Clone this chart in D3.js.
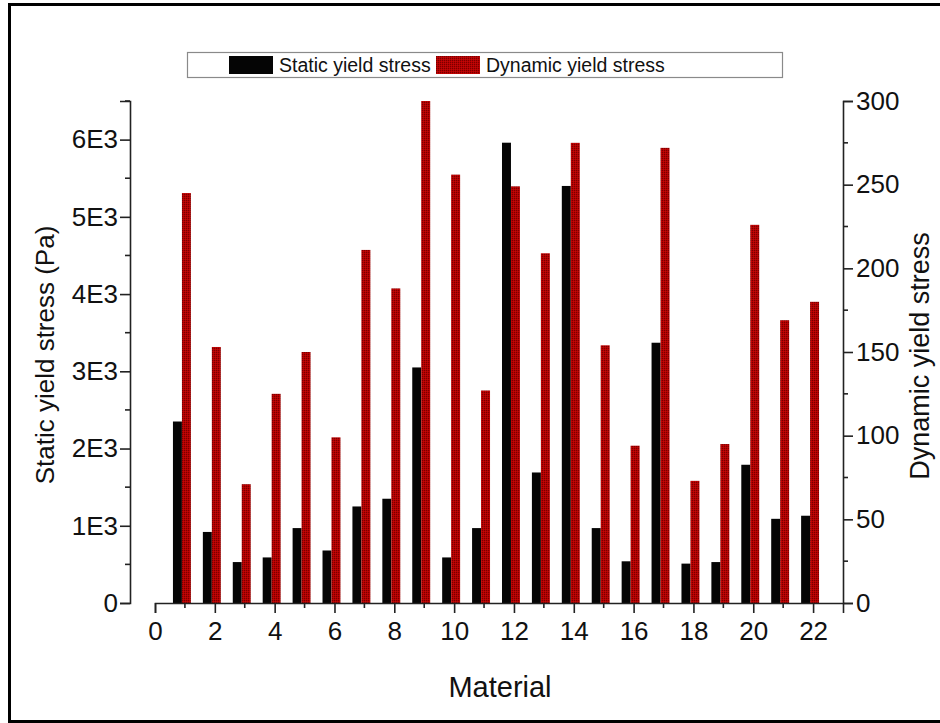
<!DOCTYPE html>
<html lang="en">
<head>
  <meta charset="UTF-8" />
  <title>Static and dynamic yield stress</title>
  <script src="https://d3js.org/d3.v7.min.js"></script>
  <style>
    body { margin: 0; background: #fff; }
    svg text { font-family: "Liberation Sans", Arial, sans-serif; fill: #111; }
  </style>
</head>
<body>
  <div id="chart"></div>

  <script>
    // values
    const materials = [1, 2, 3, 4, 5, 6, 7, 8, 9, 10, 11, 12, 13, 14, 15, 16, 17, 18, 19, 20, 21, 22];
    const staticStress = [2350, 920, 530, 590, 970, 680, 1250, 1350, 3050, 590, 970,
                          5960, 1690, 5400, 970, 540, 3370, 510, 530, 1790, 1090, 1130];
    const dynamicStress = [245, 153, 71, 125, 150, 99, 211, 188, 300, 256, 127,
                           249, 209, 275, 154, 94, 272, 73, 95, 226, 169, 180];
    const leftTicks = [0, 1000, 2000, 3000, 4000, 5000, 6000];
    const rightTicks = [0, 50, 100, 150, 200, 250, 300];
    const xTicks = [0, 2, 4, 6, 8, 10, 12, 14, 16, 18, 20, 22];
    const seriesNames = ["Static yield stress", "Dynamic yield stress"];

    const W = 940, H = 723;
    const svg = d3.select("#chart").append("svg")
      .attr("width", W)
      .attr("height", H);

    // red hatch pattern like the Origin fill
    const defs = svg.append("defs");
    const pat = defs.append("pattern")
      .attr("id", "redfill")
      .attr("patternUnits", "userSpaceOnUse")
      .attr("width", 2).attr("height", 2);
    pat.append("rect").attr("width", 2).attr("height", 2).attr("fill", "#b40000");
    pat.append("rect").attr("width", 1).attr("height", 1).attr("fill", "#780000");
    pat.append("rect").attr("x", 1).attr("y", 1).attr("width", 1).attr("height", 1).attr("fill", "#c00808");

    // outer frame
    svg.append("rect")
      .attr("x", 9.5).attr("y", 4.5)
      .attr("width", 940).attr("height", 717)
      .attr("fill", "none")
      .attr("stroke", "#000")
      .attr("stroke-width", 3);

    const x = d3.scaleLinear().domain([0, 23]).range([155, 843]);
    const yL = d3.scaleLinear().domain([0, 6500]).range([603, 101]);
    const yR = d3.scaleLinear().domain([0, 300]).range([603, 101]);

    const data = materials.map((m, i) => ({m, s: staticStress[i], d: dynamicStress[i]}));

    // bars
    svg.append("g").selectAll("rect")
      .data(data)
      .enter().append("rect")
      .attr("x", d => x(d.m - 0.4))
      .attr("width", x(0.3) - x(0))
      .attr("y", d => yL(d.s))
      .attr("height", d => yL(0) - yL(d.s))
      .attr("fill", "#050505");

    svg.append("g").selectAll("rect")
      .data(data)
      .enter().append("rect")
      .attr("x", d => x(d.m - 0.1))
      .attr("width", x(0.3) - x(0))
      .attr("y", d => yR(d.d))
      .attr("height", d => yR(0) - yR(d.d))
      .attr("fill", "url(#redfill)");

    const axisColor = "#222";

    // left axis, set off from the x axis like Origin does
    const leftAxis = svg.append("g")
      .attr("transform", "translate(130,0)")
      .call(d3.axisLeft(yL).tickValues(leftTicks).tickSize(10).tickPadding(2)
        .tickFormat(d => d === 0 ? "0" : (d / 1000) + "E3"));
    leftAxis.append("g").selectAll("line")
      .data(d3.range(500, 6501, 1000))
      .enter().append("line")
      .attr("x1", -5).attr("x2", 0)
      .attr("y1", d => yL(d)).attr("y2", d => yL(d));

    // right axis
    const rightAxis = svg.append("g")
      .attr("transform", "translate(843,0)")
      .call(d3.axisRight(yR).tickValues(rightTicks).tickSize(10).tickPadding(3));
    rightAxis.append("g").selectAll("line")
      .data(d3.range(25, 300, 50))
      .enter().append("line")
      .attr("x1", 0).attr("x2", 5)
      .attr("y1", d => yR(d)).attr("y2", d => yR(d));

    // bottom axis
    const bottomAxis = svg.append("g")
      .attr("transform", "translate(0,603)")
      .call(d3.axisBottom(x).tickValues(xTicks).tickSize(10).tickPadding(5));
    bottomAxis.append("g").selectAll("line")
      .data(d3.range(1, 23, 2))
      .enter().append("line")
      .attr("x1", d => x(d)).attr("x2", d => x(d))
      .attr("y1", 0).attr("y2", 5);

    [leftAxis, rightAxis, bottomAxis].forEach(g => {
      g.select(".domain").attr("stroke", axisColor).attr("stroke-width", 1.6);
      g.selectAll("line").attr("stroke", axisColor).attr("stroke-width", 1.6);
      g.selectAll(".tick text")
        .style("font-size", "26px")
        .style("font-family", "'Liberation Sans', Arial, sans-serif")
        .attr("fill", "#111");
    });
    bottomAxis.selectAll(".tick text").attr("dy", "0.85em");

    // axis titles
    svg.append("text")
      .attr("transform", "translate(54,355) rotate(-90)")
      .attr("text-anchor", "middle")
      .style("font-size", "26px")
      .text("Static yield stress (Pa)");

    svg.append("text")
      .attr("transform", "translate(929,356) rotate(-90)")
      .attr("text-anchor", "middle")
      .style("font-size", "27px")
      .text("Dynamic yield stress");

    svg.append("text")
      .attr("x", 500)
      .attr("y", 697)
      .attr("text-anchor", "middle")
      .style("font-size", "29px")
      .text("Material");

    // legend
    const legend = svg.append("g");
    legend.append("rect")
      .attr("x", 187.5).attr("y", 52.5)
      .attr("width", 595).attr("height", 25)
      .attr("fill", "#fff")
      .attr("stroke", "#8a8a8a")
      .attr("stroke-width", 1.2);
    const swatchX = [229, 436];
    const fills = ["#050505", "url(#redfill)"];
    seriesNames.forEach((name, i) => {
      legend.append("rect")
        .attr("x", swatchX[i]).attr("y", 56)
        .attr("width", 44).attr("height", 18)
        .attr("fill", fills[i]);
      legend.append("text")
        .attr("x", swatchX[i] + 50)
        .attr("y", 72)
        .style("font-size", "19.5px")
        .text(name);
    });
  </script>
</body>
</html>
